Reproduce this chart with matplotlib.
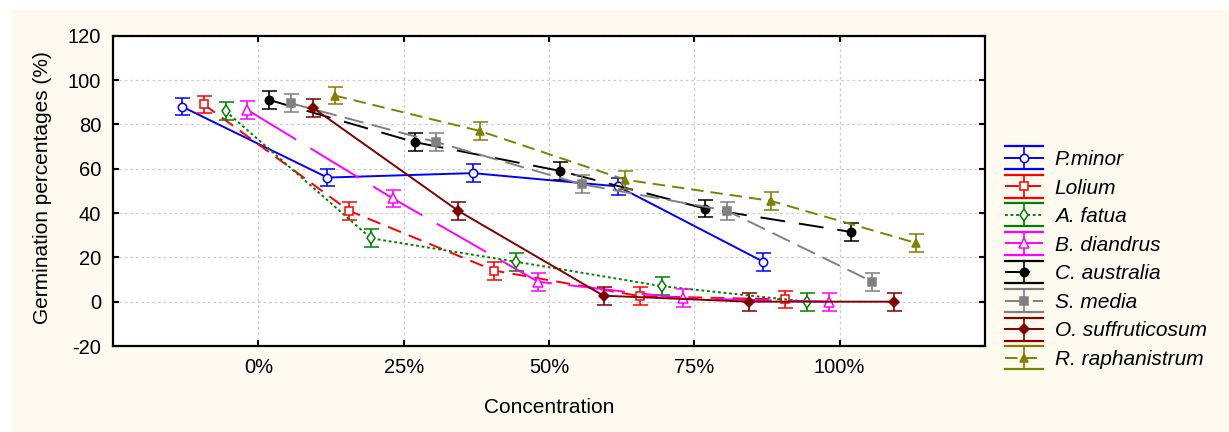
import numpy as np
import matplotlib
matplotlib.use("Agg")
import matplotlib.pyplot as plt
from matplotlib.legend_handler import HandlerBase
from matplotlib.lines import Line2D
from matplotlib.patches import Rectangle

plt.rcParams["font.family"] = ["Liberation Sans", "DejaVu Sans"]
plt.rcParams["axes.unicode_minus"] = False
plt.rcParams["lines.scale_dashes"] = False

# germination (%) per extract concentration
concentrations = ["0%", "25%", "50%", "75%", "100%"]
species = ["P.minor", "Lolium", "A. fatua", "B. diandrus", "C. australia",
           "S. media", "O. suffruticosum", "R. raphanistrum"]
p_minor = [88, 56, 58, 52, 18]
lolium = [89, 41, 14, 2.5, 1]
a_fatua = [86, 28.6, 18, 7, 0]
b_diandrus = [86.5, 46.6, 9, 1.5, 0]
c_australia = [91, 72, 59, 42, 31.5]
s_media = [89.5, 72, 53, 41, 9]
o_suffruticosum = [87.5, 41, 2.7, 0, 0]
r_raphanistrum = [93, 77, 55, 45.5, 26.5]
ci_half = [4, 4, 4, 4, 4]

series = [p_minor, lolium, a_fatua, b_diandrus, c_australia,
          s_media, o_suffruticosum, r_raphanistrum]

colors = ["#0000FF", "#FF0000", "#008000", "#FF00FF",
          "#000000", "#808080", "#800000", "#808000"]
dashes = [None, (10, 6), (2, 2), (41, 12), (18, 10), (14, 6), None, (9, 5)]
markers = ["o", "s", "d", "^", "o", "s", "D", "^"]
filled = [False, False, False, False, True, True, True, True]
msizes = [6, 5.5, 6.5, 6.5, 6, 6, 5, 6]


class SeriesKey:
    def __init__(self, i):
        self.i = i


class ErrorKeyHandler(HandlerBase):
    """Legend key drawn as a line + marker inside a capped error bar."""

    def create_artists(self, legend, orig_handle, xdescent, ydescent,
                       width, height, fontsize, trans):
        i = orig_handle.i
        c = colors[i]
        ls = "-" if dashes[i] is None else (0, dashes[i])
        cy = height / 2 - ydescent
        x0, x1 = -xdescent, -xdescent + width
        xm = (x0 + x1) / 2
        h = 8.2
        arts = [
            Line2D([x0, x1], [cy, cy], color=c, lw=1.4, linestyle=ls),
            Line2D([x0, x1], [cy + h, cy + h], color=c, lw=1.6),
            Line2D([x0, x1], [cy - h, cy - h], color=c, lw=1.6),
            Line2D([xm, xm], [cy - h, cy + h], color=c, lw=1.2),
            Line2D([xm], [cy], marker=markers[i], ms=msizes[i], mec=c, mew=1.1,
                   mfc=c if filled[i] else "white", linestyle="none"),
        ]
        for a in arts:
            a.set_transform(trans)
        return arts


fig = plt.figure(figsize=(12.29, 4.32), dpi=100, facecolor="white")
fig.add_artist(Rectangle((12 / 1229, 0), 1, 422 / 432, transform=fig.transFigure,
                         facecolor="#FFFAEF", edgecolor="none", zorder=-5))

ax = fig.add_axes([113 / 1229, 86 / 432, 872 / 1229, 310.3 / 432])
ax.set_facecolor("white")

x = np.arange(len(concentrations))
n = len(species)
for i, vals in enumerate(series):
    xs = x + (i - (n - 1) / 2) * 0.15
    ls = "-" if dashes[i] is None else (0, dashes[i])
    ax.errorbar(xs, vals, yerr=ci_half, color=colors[i], linestyle=ls, lw=1.4,
                marker=markers[i], ms=msizes[i], mec=colors[i], mew=1.1,
                mfc=colors[i] if filled[i] else "white",
                capsize=5.4, capthick=1.6, elinewidth=1.2, zorder=3 + i)

ax.set_xlim(-1, 5)
ax.set_ylim(-20, 120)
ax.set_xticks(x, concentrations)
ax.set_yticks(range(-20, 121, 20))
ax.set_axisbelow(True)
ax.grid(True, color="#CDCDCD", linestyle=(0, (2, 2)), linewidth=0.9)
ax.tick_params(direction="in", length=4, width=1.5, top=True, right=True,
               labelsize=14.5, pad=8.5)
for sp in ax.spines.values():
    sp.set_linewidth(1.6)

ax.set_xlabel("Concentration", fontsize=15)
ax.xaxis.set_label_coords(0.5, -0.168)
ax.set_ylabel("Germination percentages (%)", fontsize=15)
ax.yaxis.set_label_coords(-0.07, 0.51)

fig.legend([SeriesKey(i) for i in range(n)], species,
           handler_map={SeriesKey: ErrorKeyHandler()},
           loc="center left", bbox_to_anchor=(1005 / 1229, 172.5 / 432),
           frameon=False, prop={"style": "italic", "size": 15},
           handlelength=1.83, handletextpad=0.55, labelspacing=0.46,
           borderpad=0, borderaxespad=0)

fig.savefig("out.png", dpi=100, facecolor=fig.get_facecolor())
